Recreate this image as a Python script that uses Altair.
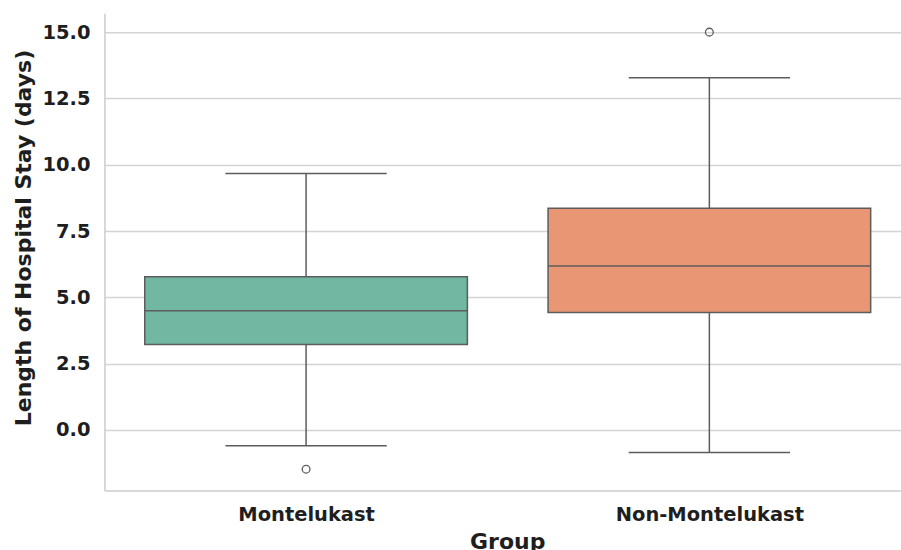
import altair as alt
import pandas as pd

# Box statistics per treatment group (days of hospital stay)
groups = ["Montelukast", "Non-Montelukast"]
q1 = [3.22, 4.43]
median = [4.49, 6.18]
q3 = [5.78, 8.36]
whisker_low = [-0.60, -0.85]
whisker_high = [9.67, 13.28]
outlier_group = ["Montelukast", "Non-Montelukast"]
outlier_value = [-1.48, 15.0]

fills = ["#71b7a1", "#e99675"]
line_color = "#5c5c5c"

boxes = pd.DataFrame({
    "group": groups,
    "pos": list(range(len(groups))),
    "q1": q1,
    "median": median,
    "q3": q3,
    "lo": whisker_low,
    "hi": whisker_high,
})
outliers = pd.DataFrame({
    "group": outlier_group,
    "pos": [groups.index(g) for g in outlier_group],
    "value": outlier_value,
})

label_expr = "datum.value == 0 ? 'Montelukast' : datum.value == 1 ? 'Non-Montelukast' : ''"

x_scale = alt.Scale(domain=[-0.5, 1.4752], nice=False, zero=False)
y_scale = alt.Scale(domain=[-2.28, 15.716], nice=False, zero=False)

x_axis = alt.Axis(
    values=[0, 1], labelExpr=label_expr, title="Group", grid=False,
    ticks=False, tickSize=0, labelPadding=30.5, labelBaseline="alphabetic",
    labelFontSize=19.5, labelFontWeight="bold", labelColor="#1e1e1e",
    labelLimit=0,
    titleFontSize=22, titleFontWeight="bold", titleColor="#1e1e1e",
    titleX=403, titleY=58, titleBaseline="alphabetic", titleAnchor="middle",
    titleAlign="center",
    domainColor="#cccccc", domainWidth=1.5,
)
y_axis = alt.Axis(
    values=[0, 2.5, 5, 7.5, 10, 12.5, 15], format=".1f",
    title="Length of Hospital Stay (days)", ticks=False, tickSize=0,
    labelPadding=14.5, labelFontSize=19.5, labelFontWeight="bold",
    labelColor="#1e1e1e",
    titleFontSize=22, titleFontWeight="bold", titleColor="#1e1e1e",
    titleAngle=270, titleX=-74, titleY=224.5, titleBaseline="alphabetic",
    titleAlign="center",
    grid=True, gridColor="#d4d4d4", gridWidth=1.5,
    domainColor="#cccccc", domainWidth=1.5,
)

base = alt.Chart(boxes).transform_calculate(
    box_l="datum.pos - 0.4", box_r="datum.pos + 0.4",
    cap_l="datum.pos - 0.2", cap_r="datum.pos + 0.2",
)

whisker_up = base.mark_rule(color=line_color, strokeWidth=1.5).encode(
    x=alt.X("pos:Q", scale=x_scale, axis=x_axis),
    y=alt.Y("q3:Q", scale=y_scale, axis=y_axis),
    y2="hi:Q",
)
whisker_down = base.mark_rule(color=line_color, strokeWidth=1.5).encode(
    x="pos:Q", y="lo:Q", y2="q1:Q",
)
cap_hi = base.mark_rule(color=line_color, strokeWidth=1.5).encode(
    x="cap_l:Q", x2="cap_r:Q", y="hi:Q",
)
cap_lo = base.mark_rule(color=line_color, strokeWidth=1.5).encode(
    x="cap_l:Q", x2="cap_r:Q", y="lo:Q",
)
box = base.mark_rect(stroke=line_color, strokeWidth=1.5).encode(
    x="box_l:Q", x2="box_r:Q", y="q1:Q", y2="q3:Q",
    fill=alt.Fill("group:N", scale=alt.Scale(domain=groups, range=fills), legend=None),
)
med = base.mark_rule(color=line_color, strokeWidth=1.5).encode(
    x="box_l:Q", x2="box_r:Q", y="median:Q",
)
fliers = alt.Chart(outliers).mark_point(
    shape="circle", size=60, filled=False, color=line_color, strokeWidth=1.3, opacity=1
).encode(x="pos:Q", y="value:Q")

chart = alt.layer(
    whisker_up, whisker_down, cap_hi, cap_lo, box, med, fliers
).properties(
    width=797, height=477.5,
    autosize=alt.AutoSizeParams(type="none"),
    padding={"left": 104.5, "top": 13, "right": 0, "bottom": 59.5},
    background="white",
).configure(font="DejaVu Sans").configure_view(stroke=None)

chart.save("out.html", embed_options={"renderer": "svg", "actions": False})
